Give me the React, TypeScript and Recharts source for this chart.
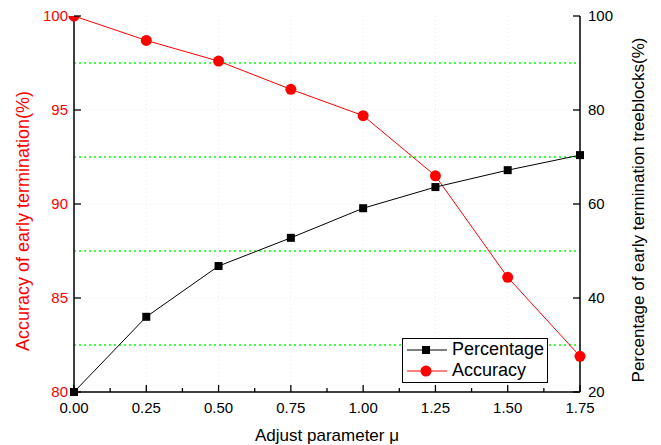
import React from "react"
import { LineChart, Line, XAxis, YAxis, CartesianGrid, ReferenceLine, Legend } from "recharts"

// adjust parameter mu
const muValues = [0, 0.25, 0.5, 0.75, 1.0, 1.25, 1.5, 1.75]
// accuracy of early termination (%), left axis
const accuracy = [100, 98.7, 97.6, 96.1, 94.7, 91.5, 86.1, 81.9]
// percentage of early termination treeblocks (%), right axis
const percentage = [20, 36, 46.8, 52.8, 59.1, 63.6, 67.2, 70.4]

const xMajorTicks = [0, 0.25, 0.5, 0.75, 1.0, 1.25, 1.5, 1.75]
const xMinorTicks = [0.125, 0.375, 0.625, 0.875, 1.125, 1.375, 1.625]
const leftTicks = [80, 85, 90, 95, 100]
const rightTicks = [20, 40, 60, 80, 100]
const greenLines = [82.5, 87.5, 92.5, 97.5]

const data = muValues.map((mu, i) => ({ mu, accuracy: accuracy[i], percentage: percentage[i] }))
const xTicks = [...xMajorTicks, ...xMinorTicks].sort((a, b) => a - b)

const FONT = "'Liberation Sans', Arial, sans-serif"

const BottomTick = (props: any) => {
  const { x, y, payload } = props
  const major = xMajorTicks.includes(payload.value)
  return (
    <g>
      <line x1={x} y1={y} x2={x} y2={y - (major ? 7 : 4)} stroke="#000" strokeWidth={1.3} />
      {major && (
        <text x={x} y={y + 21} textAnchor="middle" fontSize={15} fontFamily={FONT} fill="#000">
          {payload.value.toFixed(2)}
        </text>
      )}
    </g>
  )
}

const TopTick = (props: any) => {
  const { x, y, payload } = props
  const major = xMajorTicks.includes(payload.value)
  return <line x1={x} y1={y} x2={x} y2={y + (major ? 7 : 4)} stroke="#000" strokeWidth={1.3} />
}

const LeftTick = (props: any) => {
  const { x, y, payload } = props
  return (
    <g>
      <line x1={x} y1={y} x2={x + 7} y2={y} stroke="#000" strokeWidth={1.3} />
      <text x={x - 6} y={y + 5} textAnchor="end" fontSize={15} fontFamily={FONT} fill="#ff0000">
        {payload.value}
      </text>
    </g>
  )
}

const RightTick = (props: any) => {
  const { x, y, payload } = props
  return (
    <g>
      <line x1={x} y1={y} x2={x - 7} y2={y} stroke="#000" strokeWidth={1.3} />
      <text x={x + 8} y={y + 5} textAnchor="start" fontSize={15} fontFamily={FONT} fill="#000">
        {payload.value}
      </text>
    </g>
  )
}

const SquareDot = (props: any) => {
  const { cx, cy, index } = props
  return <rect key={index} x={cx - 4} y={cy - 4} width={8} height={8} fill="#000" />
}

const RoundDot = (props: any) => {
  const { cx, cy, index } = props
  return <circle key={index} cx={cx} cy={cy} r={5.5} fill="#ff0000" />
}

const LeftLabel = (props: any) => {
  const { viewBox } = props
  const x = viewBox.x + 23
  const y = viewBox.y + 205
  return (
    <text x={x} y={y} transform={`rotate(-90, ${x}, ${y})`} textAnchor="middle" dominantBaseline="central"
      fontSize={18} fontFamily={FONT} fill="#ff0000">
      Accuracy of early termination(%)
    </text>
  )
}

const RightLabel = (props: any) => {
  const { viewBox } = props
  const x = viewBox.x + 58
  const y = viewBox.y + 194
  return (
    <text x={x} y={y} transform={`rotate(-90, ${x}, ${y})`} textAnchor="middle" dominantBaseline="central"
      fontSize={17} fontFamily={FONT} fill="#000">
      Percentage of early termination treeblocks(%)
    </text>
  )
}

const LegendBox = () => (
  <div style={{ boxSizing: "border-box", border: "1px solid #000", background: "#fff", width: 146, height: 45, fontFamily: FONT, fontSize: 18 }}>
    {[
      { name: "Percentage", color: "#000", square: true },
      { name: "Accuracy", color: "#ff0000", square: false },
    ].map((item) => (
      <div key={item.name} style={{ display: "flex", alignItems: "center", height: 21, marginTop: 0 }}>
        <svg width={40} height={14} style={{ marginLeft: 4 }}>
          <line x1={0} y1={7} x2={40} y2={7} stroke={item.color} strokeWidth={1} />
          {item.square ? <rect x={15} y={3} width={8} height={8} fill="#000" /> : <circle cx={19} cy={7} r={5.5} fill="#ff0000" />}
        </svg>
        <span style={{ marginLeft: 5, lineHeight: "21px" }}>{item.name}</span>
      </div>
    ))}
  </div>
)

export default function App() {
  return (
    <div style={{ position: "absolute", left: 0, top: 0, background: "#fff" }}>
      <LineChart width={661} height={445} data={data} margin={{ top: 16, right: 0, bottom: 0, left: 0 }}>
        <CartesianGrid xAxisId="bottom" yAxisId="left" stroke="#ececec" strokeDasharray="1 3"
          verticalValues={xMajorTicks} horizontalValues={[85, 90, 95]} />
        {greenLines.map((v) => (
          <ReferenceLine key={v} xAxisId="bottom" yAxisId="left" y={v} stroke="#00ff00" strokeWidth={1.5} strokeDasharray="2 3" />
        ))}
        <XAxis xAxisId="bottom" dataKey="mu" type="number" domain={[0, 1.75]} ticks={xTicks} interval={0}
          height={53} tickSize={0} tickMargin={0} tickLine={false} tick={<BottomTick />}
          axisLine={{ stroke: "#000", strokeWidth: 1.5 }}
          label={{ value: "Adjust parameter \u03bc", position: "insideBottom", offset: 4, fontSize: 17, fill: "#000", fontFamily: FONT }} />
        <XAxis xAxisId="top" orientation="top" dataKey="mu" type="number" domain={[0, 1.75]} ticks={xTicks} interval={0}
          height={0} tickSize={0} tickMargin={0} tickLine={false} tick={<TopTick />}
          axisLine={{ stroke: "#000", strokeWidth: 1.5 }} />
        <YAxis yAxisId="left" orientation="left" type="number" domain={[80, 100]} ticks={leftTicks} interval={0}
          allowDataOverflow width={74} tickSize={0} tickMargin={0} tickLine={false} tick={<LeftTick />}
          axisLine={{ stroke: "#000", strokeWidth: 1.5 }} label={<LeftLabel />} />
        <YAxis yAxisId="right" orientation="right" type="number" domain={[20, 100]} ticks={rightTicks} interval={0}
          width={81} tickSize={0} tickMargin={0} tickLine={false} tick={<RightTick />}
          axisLine={{ stroke: "#000", strokeWidth: 1.5 }} label={<RightLabel />} />
        <Line xAxisId="bottom" yAxisId="left" dataKey="accuracy" name="Accuracy" stroke="#ff0000" strokeWidth={1}
          dot={<RoundDot />} activeDot={false} isAnimationActive={false} />
        <Line xAxisId="bottom" yAxisId="right" dataKey="percentage" name="Percentage" stroke="#000" strokeWidth={1}
          dot={<SquareDot />} activeDot={false} isAnimationActive={false} />
        <Legend layout="vertical" align="center" verticalAlign="middle" content={<LegendBox />}
          wrapperStyle={{ position: "absolute", left: 402, top: 338, width: 146, height: 45 }} />
      </LineChart>
    </div>
  )
}
